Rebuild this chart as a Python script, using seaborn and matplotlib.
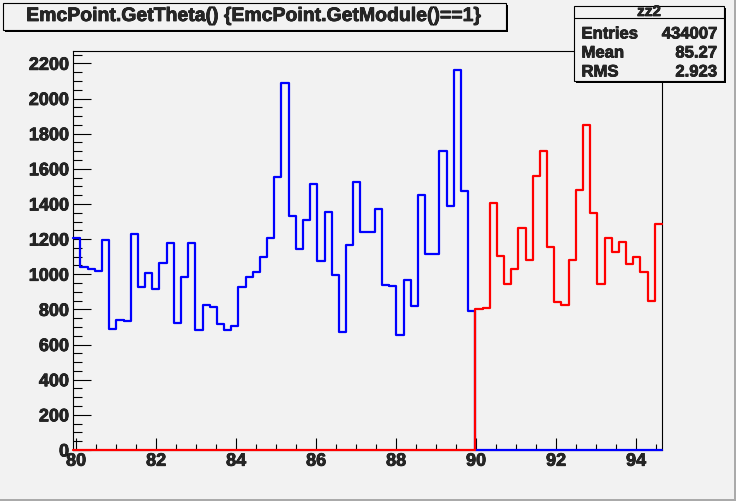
import numpy as np
import pandas as pd
import matplotlib
matplotlib.use("Agg")
import matplotlib.pyplot as plt
import matplotlib.patheffects as pe
from matplotlib.patches import Rectangle
from matplotlib.ticker import MultipleLocator
import seaborn as sns

# histogram binning (theta, degrees)
bin_start = 79.93
bin_width = 0.1795
n_bins = 82

# counts for EmcPoint.GetTheta() < 90 (blue) and >= 90 (red)
blue_counts = [
    1209, 1043, 1028, 1020, 1194, 688, 740, 733, 1228, 929,
    1005, 914, 1062, 1179, 725, 986, 1179, 680, 827, 816,
    718, 680, 703, 925, 982, 1011, 1096, 1209, 1553, 2087,
    1330, 1145, 1311, 1515, 1077, 1356, 997, 669, 1164, 1526,
    1243, 1243, 1373, 937, 931, 657, 965, 820, 1453, 1118,
    1113, 1704, 1387, 2161, 1473, 793,
]
red_counts = [
    801, 810, 1407, 1105, 946, 1028, 1266, 1082, 1560, 1702,
    1156, 841, 827, 1082, 1481, 1851, 1349, 946, 1209, 1124,
    1181, 1056, 1096, 1014, 846, 1288,
]

title = "EmcPoint.GetTheta() {EmcPoint.GetModule()==1}"
stats_name = "zz2"
stats_rows = [("Entries", "434007"), ("Mean", "85.27"), ("RMS", "2.923")]

x_lo = bin_start
x_hi = bin_start + bin_width * n_bins
centers = x_lo + bin_width * (np.arange(n_bins) + 0.5)
n_blue = len(blue_counts)
df = pd.DataFrame({
    "theta": centers,
    "blue": blue_counts + [0] * (n_bins - n_blue),
    "red": [0] * n_blue + red_counts,
})

sns.set_style("ticks")
plt.rcParams["font.family"] = ["Liberation Sans", "DejaVu Sans"]
plt.rcParams["font.weight"] = "bold"

bg = "#f2f2f2"
heavy = [pe.withStroke(linewidth=0.5, foreground="black")]

fig = plt.figure(figsize=(7.36, 5.01), dpi=100, facecolor=bg)
ax = fig.add_axes([73.3 / 736, 51 / 501, (662 - 73.3) / 736, (450 - 50.7) / 501])
ax.set_facecolor(bg)

sns.histplot(data=df, x="theta", weights="blue", bins=n_bins, binrange=(x_lo, x_hi),
             element="step", fill=False, color="#0000ff", linewidth=1.6, ax=ax)
sns.histplot(data=df, x="theta", weights="red", bins=n_bins, binrange=(x_lo, x_hi),
             element="step", fill=False, color="#ff0000", linewidth=1.6, ax=ax)
for ln in ax.lines:
    ln.set_clip_on(False)
    ln.set_zorder(3)

ax.set_xlim(x_lo, x_hi)
ax.set_ylim(0, 2272)
ax.set_xlabel("")
ax.set_ylabel("")
ax.xaxis.set_major_locator(MultipleLocator(2))
ax.xaxis.set_minor_locator(MultipleLocator(0.5))
ax.yaxis.set_major_locator(MultipleLocator(200))
ax.yaxis.set_minor_locator(MultipleLocator(50))
ax.tick_params(axis="both", which="both", direction="in", width=0.8, color="black",
               top=False, right=False)
ax.tick_params(axis="x", which="major", length=8.6, pad=2, labelsize=13)
ax.tick_params(axis="x", which="minor", length=4.3)
ax.tick_params(axis="y", which="major", length=13, pad=3, labelsize=13)
ax.tick_params(axis="y", which="minor", length=6.5)
for lab in ax.get_xticklabels() + ax.get_yticklabels():
    lab.set_fontweight("bold")
    lab.set_path_effects(heavy)
for sp in ax.spines.values():
    sp.set_visible(True)
    sp.set_linewidth(0.8)
    sp.set_color("black")


def px_box(x0, y0, x1, y1):
    # pixel box (from top-left) -> figure-fraction rect with a ROOT-like shadow
    W, H = 736, 501
    shadow = Rectangle(((x0 + 2) / W, 1 - (y1 + 2) / H), (x1 - x0) / W, (y1 - y0) / H,
                       transform=fig.transFigure, facecolor="black", edgecolor="none",
                       zorder=5)
    box = Rectangle((x0 / W, 1 - y1 / H), (x1 - x0) / W, (y1 - y0) / H,
                    transform=fig.transFigure, facecolor=bg, edgecolor="black",
                    linewidth=0.8, zorder=6)
    fig.add_artist(shadow)
    fig.add_artist(box)


# title box
px_box(3, 3, 506, 30)
fig.text(254 / 736, 1 - 16.5 / 501, title, ha="center", va="center",
         fontsize=14, fontweight="bold", zorder=7, path_effects=heavy)

# stats box
px_box(574, 6, 724, 81)
fig.add_artist(plt.Line2D([574 / 736, 724 / 736], [1 - 17.5 / 501, 1 - 17.5 / 501],
                          transform=fig.transFigure, color="black", lw=0.8, zorder=7))
fig.text(649 / 736, 1 - 12 / 501, stats_name, ha="center", va="center",
         fontsize=11, fontweight="bold", zorder=7, path_effects=heavy)
for i, (k, v) in enumerate(stats_rows):
    y = 1 - (34 + 19 * i) / 501
    fig.text(581.5 / 736, y, k, ha="left", va="center", fontsize=12,
             fontweight="bold", zorder=7, path_effects=heavy)
    fig.text(717 / 736, y, v, ha="right", va="center", fontsize=12,
             fontweight="bold", zorder=7, path_effects=heavy)

# canvas bevel on right and bottom
fig.add_artist(Rectangle((734 / 736, 0), 2 / 736, 1, transform=fig.transFigure,
                         facecolor="#aaaaaa", edgecolor="none"))
fig.add_artist(Rectangle((0, 0), 1, 2 / 501, transform=fig.transFigure,
                         facecolor="#aaaaaa", edgecolor="none"))

fig.savefig("out.png", dpi=100, facecolor=bg)
